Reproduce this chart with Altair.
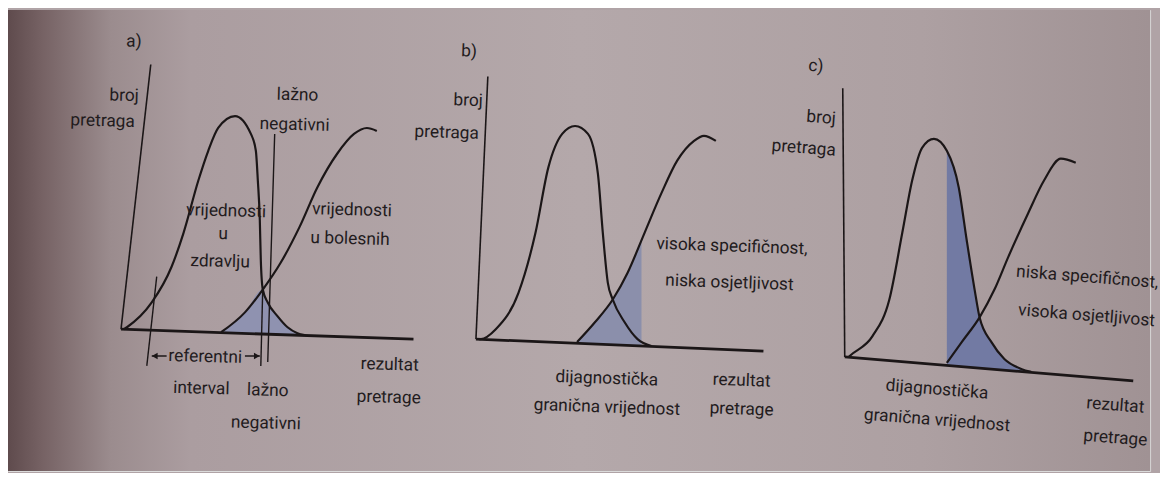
import altair as alt
import pandas as pd

FONT = "Roboto"
INK = "#1b1617"
TXT = "#221b1d"
FS = 17.5

# ---------------- panel a ----------------
a_healthy_x = [3, 6, 31, 51, 63, 78, 88, 98, 115, 131, 136, 138, 140, 141, 143, 148, 158, 168, 178, 185]
a_healthy_y = [0, 2, 27, 63, 97, 150, 180, 203, 215, 197, 180, 150, 110, 70, 40, 27, 13, 2, -4, -6]
a_disease_x = [101, 125, 143, 161, 180, 198, 218, 235, 248, 258]
a_disease_y = [-3, 17, 40, 67, 103, 143, 177, 197, 203, 200]
a_cross_x = 143
a_axis_end = (295, -10)
a_axis_top = (30, 267)
a_marker_x = [36, 143, 155]
a_marker_y = [53, 43, 197]
a_marker_x2 = [26, 141, 148]
a_marker_y2 = [-37, -37, -33]
a_arrow_x = [31, 125]
a_arrow_x2 = [46, 140]
a_arrow_y = [-27, -27]
a_head_x = [34, 137]
a_head_shape = ["triangle-left", "triangle-right"]
a_text = ["a)", "broj", "pretraga", "lažno", "negativni", "vrijednosti", "u", "zdravlju",
          "vrijednosti", "u bolesnih", "referentni", "interval", "lažno", "negativni",
          "rezultat", "pretrage"]
a_text_x = [13, 18, 14, 178, 175, 106, 103, 100, 233, 231, 85, 81, 148, 146, 271, 270]
a_text_y = [290, 235, 209, 236, 206, 119, 96, 68, 120, 91, -28, -60, -62, -95, -36, -69]
a_text_align = ["center", "right", "right", "center", "center", "center", "center", "center",
                "center", "center", "center", "center", "center", "center", "center", "center"]

# ---------------- panel b ----------------
b_healthy_x = [3, 5, 20, 43, 60, 73, 87, 100, 113, 123, 128, 133, 138, 150, 163, 177]
b_healthy_y = [0, 0, 10, 47, 107, 173, 207, 215, 207, 167, 107, 57, 40, 17, 0, -7]
b_disease_x = [102, 120, 138, 153, 170, 187, 203, 220, 230, 242]
b_disease_y = [-3, 17, 40, 67, 107, 147, 180, 200, 205, 200]
b_cutoff_x = 167
b_cutoff_y = 100
b_axis_end = (290, -12)
b_axis_top = (12, 265)
b_text = ["b)", "broj", "pretraga", "visoka specifičnost,", "niska osjetljivost",
          "dijagnostička", "granična vrijednost", "rezultat", "pretrage"]
b_text_x = [-7, 7, 3, 182, 191, 132, 132, 268, 268]
b_text_y = [290, 240, 207, 96, 59, -40, -69, -42, -71]
b_text_align = ["center", "right", "right", "left", "left", "center", "center", "center", "center"]

# ---------------- panel c ----------------
c_healthy_x = [4, 5, 28, 45, 58, 68, 78, 90, 103, 115, 123, 131, 136, 148, 161, 178, 188]
c_healthy_y = [0, 1, 21, 58, 125, 178, 211, 220, 208, 171, 118, 68, 40, 15, -2, -12, -15]
c_disease_x = [103, 118, 136, 151, 165, 185, 201, 218, 233]
c_disease_y = [-6, 15, 40, 68, 101, 145, 178, 200, 196]
c_cutoff_x = 103
c_axis_end = (291, -24)
c_axis_top = (-2, 271)
c_text = ["c)", "broj", "pretraga", "niska specifičnost,", "visoka osjetljivost",
          "dijagnostička", "granična vrijednost", "rezultat", "pretrage"]
c_text_x = [-29, -9, -9, 173, 175, 93, 93, 273, 273]
c_text_y = [293, 240, 208, 86, 47, -33, -64, -49, -82]
c_text_align = ["center", "right", "right", "left", "left", "center", "center", "center", "center"]

# ---------------- layout (where each panel's origin sits on the page) ----------------
W, H = 1152, 465
ORIGIN = {"a": (114, 143), "b": (472, 133), "c": (844, 115)}
ANGLE = {"a": 1.5, "b": 2, "c": 4.5}
SHADE = {"a": "#8f92b0", "b": "#8b8fab", "c": "#727aa3"}
BG_STOPS = [(0, "#5f4b4d"), (0.03, "#766264"), (0.09, "#9b8c8e"), (0.16, "#ab9da0"),
            (0.5, "#b4a8aa"), (0.8, "#ada0a2"), (1, "#a09294")]

SX = alt.Scale(domain=[0, W], nice=False, zero=False)
SY = alt.Scale(domain=[0, H], nice=False, zero=False)


def X(f):
    return alt.X(f + ":Q", scale=SX, axis=None)


def Y(f):
    return alt.Y(f + ":Q", scale=SY, axis=None)


def place(p, xs, ys, axis_end=None):
    gx, gy = ORIGIN[p]
    df = pd.DataFrame({"x": [gx + v for v in xs], "y": [gy + v for v in ys]})
    if axis_end is not None:
        dx, dy = axis_end
        df["base"] = [gy + v * dy / dx for v in xs]
    return df


layers = [alt.Chart(pd.DataFrame({"k": [0]})).mark_rect(
    color=alt.Gradient(gradient="linear",
                       stops=[alt.GradientStop(offset=o, color=c) for o, c in BG_STOPS],
                       x1=0, x2=1, y1=0, y2=0)
).encode(x=alt.value(0), x2=alt.value(W), y=alt.value(0), y2=alt.value(H))]

panels = {
    "a": dict(hx=a_healthy_x, hy=a_healthy_y, dx=a_disease_x, dy=a_disease_y, end=a_axis_end, top=a_axis_top,
              tx=a_text, txx=a_text_x, txy=a_text_y, al=a_text_align),
    "b": dict(hx=b_healthy_x, hy=b_healthy_y, dx=b_disease_x, dy=b_disease_y, end=b_axis_end, top=b_axis_top,
              tx=b_text, txx=b_text_x, txy=b_text_y, al=b_text_align),
    "c": dict(hx=c_healthy_x, hy=c_healthy_y, dx=c_disease_x, dy=c_disease_y, end=c_axis_end, top=c_axis_top,
              tx=c_text, txx=c_text_x, txy=c_text_y, al=c_text_align),
}

# shaded regions
a_sx = [x for x in a_disease_x if x < a_cross_x] + [x for x in a_healthy_x if x >= a_cross_x]
a_sy = [y for x, y in zip(a_disease_x, a_disease_y) if x < a_cross_x] + \
       [y for x, y in zip(a_healthy_x, a_healthy_y) if x >= a_cross_x]
b_sx = [x for x in b_disease_x if x < b_cutoff_x] + [b_cutoff_x]
b_sy = [y for x, y in zip(b_disease_x, b_disease_y) if x < b_cutoff_x] + [b_cutoff_y]
c_sx = [x for x in c_healthy_x if x >= c_cutoff_x]
c_sy = [y for x, y in zip(c_healthy_x, c_healthy_y) if x >= c_cutoff_x]
shades = {"a": (a_sx, a_sy), "b": (b_sx, b_sy), "c": (c_sx, c_sy)}

for p, d in panels.items():
    sxs, sys_ = shades[p]
    layers.append(alt.Chart(place(p, sxs, sys_, d["end"])).mark_area(
        color=SHADE[p], interpolate="monotone").encode(x=X("x"), y=Y("y"), y2=alt.Y2("base:Q")))
    for cx, cy in [(d["hx"], d["hy"]), (d["dx"], d["dy"])]:
        layers.append(alt.Chart(place(p, cx, cy)).mark_line(
            color=INK, strokeWidth=2.2, interpolate="monotone").encode(x=X("x"), y=Y("y")))
    gx, gy = ORIGIN[p]
    frame = pd.DataFrame({"x": [gx, gx], "y": [gy, gy],
                          "x2": [gx + d["top"][0], gx + d["end"][0]],
                          "y2": [gy + d["top"][1], gy + d["end"][1]],
                          "w": [1.6, 2.8]})
    layers.append(alt.Chart(frame).mark_rule(color=INK).encode(
        x=X("x"), y=Y("y"), x2=alt.X2("x2:Q"), y2=alt.Y2("y2:Q"),
        strokeWidth=alt.StrokeWidth("w:Q", scale=None)))
    lab = place(p, d["txx"], d["txy"])
    lab["text"] = d["tx"]
    lab["align"] = d["al"]
    for al in ["left", "center", "right"]:
        sub = lab[lab["align"] == al]
        if len(sub):
            layers.append(alt.Chart(sub).mark_text(
                font=FONT, fontSize=FS, color=TXT, align=al, baseline="middle", angle=ANGLE[p]
            ).encode(x=X("x"), y=Y("y"), text="text:N"))

# panel a markers: reference-interval bars, false-negative pointer, arrows
gx, gy = ORIGIN["a"]
markers = pd.DataFrame({"x": [gx + v for v in a_marker_x], "y": [gy + v for v in a_marker_y],
                        "x2": [gx + v for v in a_marker_x2], "y2": [gy + v for v in a_marker_y2]})
layers.append(alt.Chart(markers).mark_rule(color=INK, strokeWidth=1.4).encode(
    x=X("x"), y=Y("y"), x2=alt.X2("x2:Q"), y2=alt.Y2("y2:Q")))
arrows = pd.DataFrame({"x": [gx + v for v in a_arrow_x], "x2": [gx + v for v in a_arrow_x2],
                       "y": [gy + v for v in a_arrow_y]})
layers.append(alt.Chart(arrows).mark_rule(color=INK, strokeWidth=1.5).encode(
    x=X("x"), y=Y("y"), x2=alt.X2("x2:Q")))
heads = pd.DataFrame({"x": [gx + v for v in a_head_x], "y": [gy + v for v in a_arrow_y],
                      "shape": a_head_shape})
layers.append(alt.Chart(heads).mark_point(filled=True, color=INK, size=45, opacity=1).encode(
    x=X("x"), y=Y("y"), shape=alt.Shape("shape:N", scale=None)))

chart = alt.layer(*layers).properties(width=W, height=H, padding=0).configure_view(
    strokeWidth=0).configure(background="#b0a3a6")

chart.save("out.html", embed_options={"renderer": "svg", "actions": False})
